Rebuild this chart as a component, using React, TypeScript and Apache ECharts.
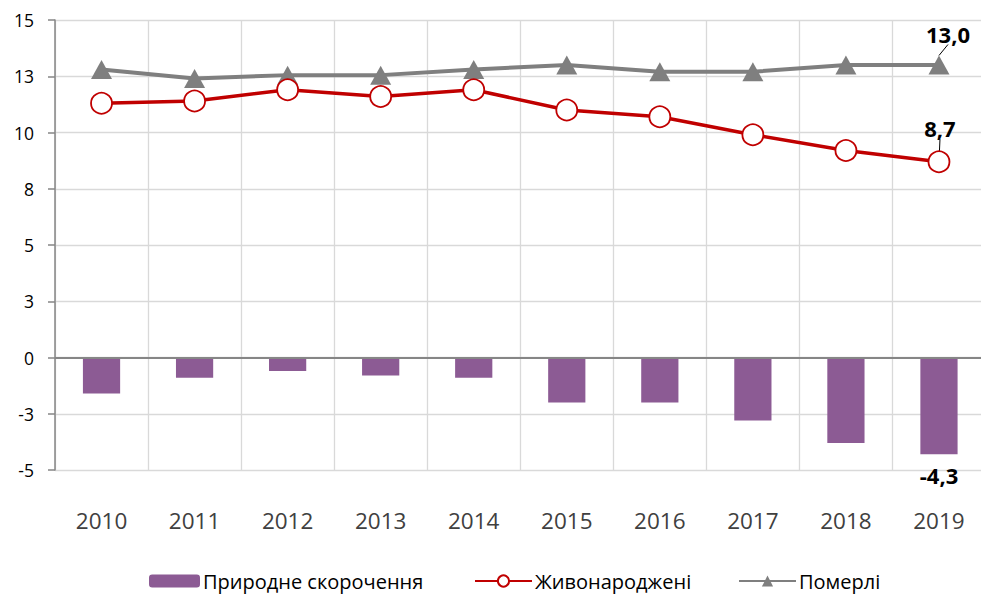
import React, { useEffect, useRef } from "react";
import * as echarts from "echarts";

const years = ["2010", "2011", "2012", "2013", "2014", "2015", "2016", "2017", "2018", "2019"];
const naturalDecrease = [-1.6, -0.9, -0.6, -0.8, -0.9, -2.0, -2.0, -2.8, -3.8, -4.3];
const births = [11.3, 11.4, 11.9, 11.6, 11.9, 11.0, 10.7, 9.9, 9.2, 8.7];
const deaths = [12.8, 12.4, 12.55, 12.55, 12.8, 13.0, 12.7, 12.7, 13.0, 13.0];
const seriesNames = ["Природне скорочення", "Живонароджені", "Померлі"];

const FONT = "'Open Sans', 'Noto Sans', sans-serif";

const fmt = (v: number) => v.toFixed(1).replace(".", ",");

const labelBase = {
  show: true,
  fontFamily: FONT,
  fontSize: 22,
  fontWeight: "bold",
  color: "#000",
  formatter: (p: any) => fmt(p.value),
};

function withLastLabel(values: number[], label: any, extra: any = {}) {
  const last = values.length - 1;
  return values.map((v, i) =>
    i === last ? { value: v, label: { ...labelBase, ...label }, ...extra } : { value: v }
  );
}

export default function App() {
  const ref = useRef<HTMLDivElement>(null);
  useEffect(() => {
    if (!ref.current) return;
    const chart = echarts.init(ref.current, null, { renderer: "svg" });
    const legendText = { fontFamily: FONT, fontSize: 20, color: "#000", padding: [0, 0, 0, -2] };
    chart.setOption({
      animation: false,
      textStyle: { fontFamily: FONT },
      grid: { left: 55, width: 930.5, top: 20, height: 450, containLabel: false },
      legend: [
        {
          data: [seriesNames[0]],
          left: 144,
          top: 566,
          itemWidth: 51,
          itemHeight: 13,
          textStyle: legendText,
        },
        {
          data: [seriesNames[1]],
          left: 469,
          top: 566,
          itemWidth: 57,
          itemHeight: 14,
          textStyle: legendText,
        },
        {
          data: [seriesNames[2]],
          left: 733,
          top: 566,
          itemWidth: 57,
          itemHeight: 14,
          textStyle: legendText,
        },
      ],
      xAxis: {
        type: "category",
        data: years,
        position: "bottom",
        boundaryGap: true,
        axisLine: { show: false, onZero: false },
        axisTick: { show: false },
        splitLine: { show: true, lineStyle: { color: "#d9d9d9", width: 1.3 } },
        axisLabel: { fontFamily: FONT, fontSize: 22.5, color: "#404040", margin: 39, interval: 0 },
      },
      yAxis: {
        type: "value",
        min: -5,
        max: 15,
        interval: 2.5,
        axisLine: { show: true, lineStyle: { color: "#868686", width: 1.5 } },
        axisTick: { show: true, length: 7, lineStyle: { color: "#868686", width: 1.5 } },
        splitLine: { show: true, lineStyle: { color: "#d9d9d9", width: 1.3 } },
        axisLabel: {
          fontFamily: FONT,
          fontSize: 17.5,
          color: "#000",
          margin: 21,
          formatter: (v: number) => String(Math.sign(v) * Math.round(Math.abs(v))),
        },
      },
      series: [
        {
          name: seriesNames[0],
          type: "bar",
          data: withLastLabel(naturalDecrease, { position: "bottom", distance: 10 }),
          barWidth: "40%",
          itemStyle: { color: "#8c5b94" },
          markLine: {
            silent: true,
            symbol: "none",
            label: { show: false },
            lineStyle: { color: "#868686", width: 2, type: "solid" },
            data: [{ yAxis: 0 }],
          },
        },
        {
          name: seriesNames[1],
          type: "line",
          data: withLastLabel(
            births,
            { position: "top", distance: 0 },
            { labelLine: { show: true, lineStyle: { color: "#000", width: 1 } } }
          ),
          symbol: "circle",
          symbolSize: 21,
          lineStyle: { color: "#c00000", width: 3.5 },
          itemStyle: { color: "#ffffff", borderColor: "#c00000", borderWidth: 1.8 },
          labelLayout: { dx: 1, dy: -11 },
          z: 4,
        },
        {
          name: seriesNames[2],
          type: "line",
          data: withLastLabel(
            deaths,
            { position: "top", distance: 0 },
            { labelLine: { show: true, lineStyle: { color: "#000", width: 1 } } }
          ),
          symbol: "triangle",
          symbolSize: [21, 19],
          lineStyle: { color: "#7f7f7f", width: 4 },
          itemStyle: { color: "#7f7f7f" },
          labelLayout: { dx: 9, dy: -11 },
          z: 3,
        },
      ],
    });
    return () => chart.dispose();
  }, []);
  return (
    <div style={{ width: 981, height: 597, position: "absolute", left: 0, top: 0, overflow: "hidden" }}>
      <div ref={ref} style={{ width: 992, height: 597 }} />
    </div>
  );
}
